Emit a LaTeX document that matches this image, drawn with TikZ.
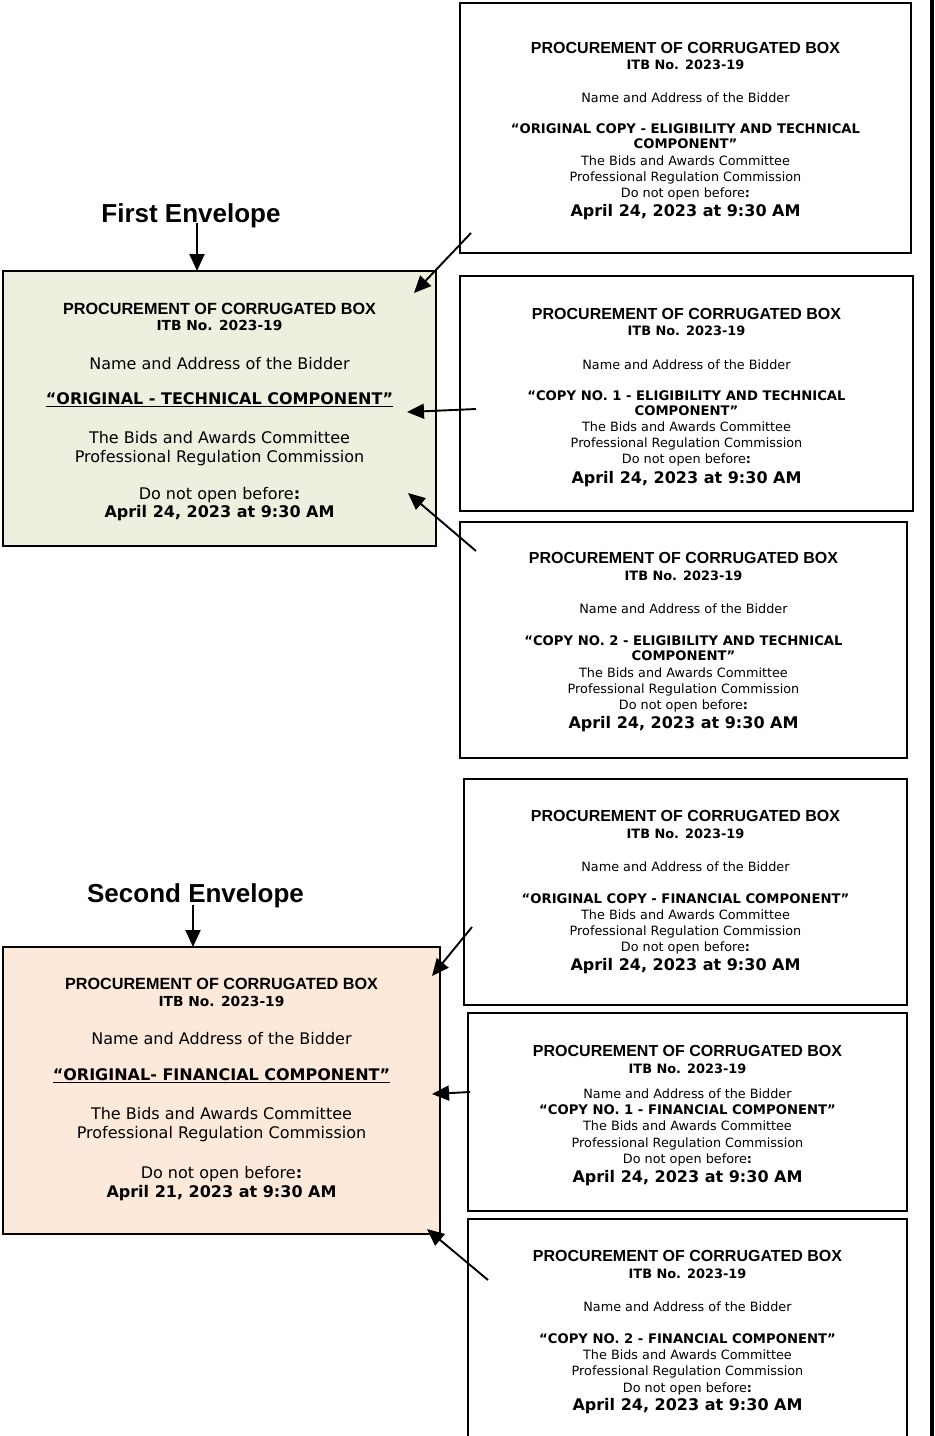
\documentclass[tikz,border=0pt]{standalone}
\usepackage{fontspec}
\newfontfamily\vd{DejaVu Sans}
\newfontfamily\ar{Liberation Sans}
\usetikzlibrary{arrows.meta}
\definecolor{envgreen}{HTML}{EBF1DE}
\definecolor{envpeach}{HTML}{FDE9D9}
% right-hand boxes
\newcommand\rHd{\ar\bfseries\fontsize{16}{18}\selectfont}
\newcommand\rItb{\vd\bfseries\fontsize{12.9}{15}\selectfont}
\newcommand\rTx{\vd\fontsize{12.8}{15}\selectfont}
\newcommand\rBd{\vd\bfseries\fontsize{13.2}{15}\selectfont}
\newcommand\rDt{\vd\bfseries\fontsize{16}{18}\selectfont}
% left-hand boxes
\newcommand\lHd{\ar\bfseries\fontsize{16.2}{18}\selectfont}
\newcommand\lItb{\vd\bfseries\fontsize{13.8}{16}\selectfont}
\newcommand\lTx{\vd\fontsize{16}{18}\selectfont}
\newcommand\lBd{\vd\bfseries\fontsize{16}{18}\selectfont}
\newcommand\boldcolon{\textbf{:}}
\begin{document}
\begin{tikzpicture}[x=1pt,y=-1pt,
  box/.style={draw=black,line width=1.7,anchor=north west,inner sep=0,outer sep=0},
  txt/.style={inner sep=0,outer sep=0,anchor=base,align=center},
  title/.style={inner sep=0,outer sep=0,anchor=base,font=\ar\bfseries\fontsize{26}{30}\selectfont},
  arr/.style={line width=1.9,-{Triangle[length=17pt,width=15pt]}},
  uline/.style={line width=1.4}]
\useasboundingbox (0,0) rectangle (935,1436);
\fill[white] (0,0) rectangle (935,1436);

% ---------- boxes ----------
\node[box,minimum width=451,minimum height=250] (A) at (460,3) {};
\node[box,minimum width=453,minimum height=235] (B) at (460,276) {};
\node[box,minimum width=447,minimum height=236] (C) at (460,522) {};
\node[box,minimum width=443,minimum height=226] (D) at (464,779) {};
\node[box,minimum width=439,minimum height=198] (E) at (468,1013) {};
\node[box,minimum width=439,minimum height=240] (F) at (468,1219) {};
\node[box,fill=envgreen,minimum width=433,minimum height=275] (G) at (3,271) {};
\node[box,fill=envpeach,minimum width=437,minimum height=287] (P) at (3,947) {};

% right edge bar
\fill[black] (930.2,-2) rectangle (934.2,1440);

% ---------- titles ----------
\node[title] (T1) at (191,222) {First Envelope};
\node[title] (T2) at (195.5,902) {Second Envelope};

% ---------- texts, box A ----------
\foreach \y/\t [count=\i] in {
  53/{\rHd PROCUREMENT OF CORRUGATED BOX},
  69/{\rItb ITB No. 2023-19},
  102/{\rTx Name and Address of the Bidder},
  133/{\rBd “ORIGINAL COPY - ELIGIBILITY AND TECHNICAL},
  148/{\rBd COMPONENT”},
  165/{\rTx The Bids and Awards Committee},
  181/{\rTx Professional Regulation Commission},
  197/{\rTx Do not open before\boldcolon},
  216/{\rDt April 24, 2023 at 9:30 AM}}
  \node[txt] (A\i) at (685.5,\y) {\t};

% ---------- box B ----------
\foreach \y/\t [count=\i] in {
  319/{\rHd PROCUREMENT OF CORRUGATED BOX},
  335/{\rItb ITB No. 2023-19},
  369/{\rTx Name and Address of the Bidder},
  400/{\rBd “COPY NO. 1 - ELIGIBILITY AND TECHNICAL},
  415/{\rBd COMPONENT”},
  431/{\rTx The Bids and Awards Committee},
  447/{\rTx Professional Regulation Commission},
  463/{\rTx Do not open before\boldcolon},
  483/{\rDt April 24, 2023 at 9:30 AM}}
  \node[txt] (B\i) at (686.5,\y) {\t};

% ---------- box C ----------
\foreach \y/\t [count=\i] in {
  563/{\rHd PROCUREMENT OF CORRUGATED BOX},
  580/{\rItb ITB No. 2023-19},
  613/{\rTx Name and Address of the Bidder},
  645/{\rBd “COPY NO. 2 - ELIGIBILITY AND TECHNICAL},
  660/{\rBd COMPONENT”},
  677/{\rTx The Bids and Awards Committee},
  693/{\rTx Professional Regulation Commission},
  709/{\rTx Do not open before\boldcolon},
  728/{\rDt April 24, 2023 at 9:30 AM}}
  \node[txt] (C\i) at (683.5,\y) {\t};

% ---------- box D ----------
\foreach \y/\t [count=\i] in {
  821/{\rHd PROCUREMENT OF CORRUGATED BOX},
  838/{\rItb ITB No. 2023-19},
  871/{\rTx Name and Address of the Bidder},
  903/{\rBd “ORIGINAL COPY - FINANCIAL COMPONENT”},
  919/{\rTx The Bids and Awards Committee},
  935/{\rTx Professional Regulation Commission},
  951/{\rTx Do not open before\boldcolon},
  970/{\rDt April 24, 2023 at 9:30 AM}}
  \node[txt] (D\i) at (685.5,\y) {\t};

% ---------- box E ----------
\foreach \y/\t [count=\i] in {
  1056/{\rHd PROCUREMENT OF CORRUGATED BOX},
  1073/{\rItb ITB No. 2023-19},
  1098/{\rTx Name and Address of the Bidder},
  1114/{\rBd “COPY NO. 1 - FINANCIAL COMPONENT”},
  1130/{\rTx The Bids and Awards Committee},
  1147/{\rTx Professional Regulation Commission},
  1163/{\rTx Do not open before\boldcolon},
  1182/{\rDt April 24, 2023 at 9:30 AM}}
  \node[txt] (E\i) at (687.5,\y) {\t};

% ---------- box F ----------
\foreach \y/\t [count=\i] in {
  1261/{\rHd PROCUREMENT OF CORRUGATED BOX},
  1278/{\rItb ITB No. 2023-19},
  1311/{\rTx Name and Address of the Bidder},
  1343/{\rBd “COPY NO. 2 - FINANCIAL COMPONENT”},
  1359/{\rTx The Bids and Awards Committee},
  1375/{\rTx Professional Regulation Commission},
  1392/{\rTx Do not open before\boldcolon},
  1410/{\rDt April 24, 2023 at 9:30 AM}}
  \node[txt] (F\i) at (687.5,\y) {\t};

% ---------- green box ----------
\foreach \y/\t [count=\i] in {
  314/{\lHd PROCUREMENT OF CORRUGATED BOX},
  330/{\lItb ITB No. 2023-19},
  369/{\lTx Name and Address of the Bidder},
  404/{\lBd “ORIGINAL - TECHNICAL COMPONENT”},
  443/{\lTx The Bids and Awards Committee},
  462/{\lTx Professional Regulation Commission},
  499/{\lTx Do not open before\boldcolon},
  517/{\lBd April 24, 2023 at 9:30 AM}}
  \node[txt] (G\i) at (219.5,\y) {\t};
\draw[uline] ([yshift=-2.2]G4.base west) -- ([yshift=-2.2]G4.base east);

% ---------- peach box ----------
\foreach \y/\t [count=\i] in {
  989/{\lHd PROCUREMENT OF CORRUGATED BOX},
  1006/{\lItb ITB No. 2023-19},
  1044/{\lTx Name and Address of the Bidder},
  1080/{\lBd “ORIGINAL- FINANCIAL COMPONENT”},
  1119/{\lTx The Bids and Awards Committee},
  1138/{\lTx Professional Regulation Commission},
  1178/{\lTx Do not open before\boldcolon},
  1197/{\lBd April 21, 2023 at 9:30 AM}}
  \node[txt] (P\i) at (221.5,\y) {\t};
\draw[uline] ([yshift=-2.2]P4.base west) -- ([yshift=-2.2]P4.base east);

% ---------- connectors ----------
\coordinate (t1s) at (197,223);
\coordinate (t2s) at (193,905);
\draw[arr] (t1s) -- (t1s |- G.north);
\draw[arr] (t2s) -- (t2s |- P.north);

\coordinate (a1s) at (471,233); \coordinate (a1e) at (414,293);
\coordinate (a2s) at (476,409); \coordinate (a2e) at (407,412);
\coordinate (a3s) at (476,551); \coordinate (a3e) at (408,493);
\coordinate (a4s) at (472,927); \coordinate (a4e) at (432,976);
\coordinate (a5s) at (470,1092); \coordinate (a5e) at (432,1094);
\coordinate (a6s) at (488,1280); \coordinate (a6e) at (427,1229);
\draw[arr] (a1s) -- (a1e);
\draw[arr] (a2s) -- (a2e);
\draw[arr] (a3s) -- (a3e);
\draw[arr] (a4s) -- (a4e);
\draw[arr] (a5s) -- (a5e);
\draw[arr] (a6s) -- (a6e);
\end{tikzpicture}
\end{document}
